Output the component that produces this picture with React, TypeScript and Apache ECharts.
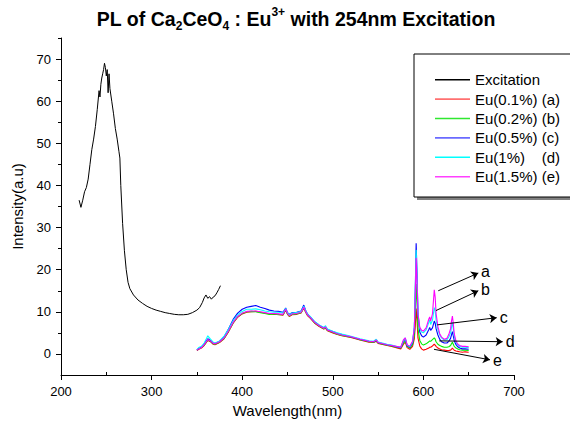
import React, { useEffect, useRef } from 'react';
import * as echarts from 'echarts';

const FONT = '"Liberation Sans", Arial, Helvetica, sans-serif';

// Excitation spectrum (black)
const excitationWavelengths = [220, 222, 224, 226, 228, 230, 232, 234, 236, 238, 240, 242, 243, 244, 245, 246, 247, 248, 249, 250, 251, 252, 253, 254, 256, 258, 260, 262, 264, 265, 266, 268, 270, 272, 274, 276, 280, 285, 290, 295, 300, 305, 310, 315, 320, 325, 330, 335, 340, 345, 350, 353, 356, 358, 360, 362, 364, 366, 368, 370, 372, 374, 376];
const excitationValues = [36.5, 34.8, 36.5, 38.5, 39.5, 41.5, 45, 48.5, 51, 54, 58, 62.5, 61, 64, 65.5, 66.5, 67.5, 69, 68, 66, 67.5, 62, 66.5, 63, 60, 57, 53.5, 51, 48, 46.5, 40, 31, 24.5, 20, 17, 15.5, 14, 12.8, 12, 11.3, 10.8, 10.4, 10.1, 9.8, 9.6, 9.4, 9.3, 9.3, 9.4, 9.8, 10.4, 11.0, 12.2, 13.3, 14.0, 13.2, 13.6, 13.0, 13.5, 13.8, 14.5, 15.3, 16.2];

// Emission spectra
const emissionWavelengths = [350, 352, 355, 358, 360, 362, 365, 368, 370, 375, 380, 385, 390, 395, 400, 405, 410, 415, 420, 425, 430, 435, 440, 445, 448, 450, 452, 455, 460, 465, 468, 470, 472, 475, 480, 485, 490, 492, 494, 500, 505, 510, 520, 530, 540, 545, 548, 550, 560, 565, 570, 575, 578, 580, 582, 585, 588, 590, 591, 592, 593, 594, 596, 598, 600, 603, 606, 607, 608, 610, 612, 613, 614, 616, 618, 620, 623, 626, 628, 630, 631, 632, 633, 634, 636, 638, 640, 643, 646, 650];

const eu01 = [0.8, 1.1, 1.4, 2.0, 2.6, 3.2, 2.9, 2.3, 2.2, 2.7,
  3.6, 5.3, 7.3, 8.7, 9.5, 9.9, 10.0, 10.1, 9.9, 9.7,
  9.5, 9.4, 9.4, 9.2, 10.4, 9.4, 8.9, 9.3, 9.4, 9.7,
  10.9, 9.9, 9.1, 8.5, 7.3, 6.5, 5.9, 6.1, 5.5, 5.0,
  4.6, 4.3, 3.9, 3.3, 2.8, 2.7, 3.0, 2.5, 2.0, 1.8,
  1.5, 1.2, 2.3, 2.8, 1.5, 1.1, 1.8, 3.6, 6.5, 10.8,
  7.8, 3.8, 1.9, 1.2, 0.9, 1.1, 1.4, 1.6, 1.6, 1.9,
  2.3, 2.1, 1.8, 1.4, 1.2, 1.0, 0.9, 0.8, 0.8, 0.9,
  1.1, 1.4, 1.1, 0.9, 0.7, 0.6, 0.5, 0.4, 0.5, 0.4];

const eu02 = [0.9, 1.2, 1.5, 2.1, 2.7, 3.3, 3.0, 2.4, 2.3, 2.8,
  3.7, 5.4, 7.4, 8.8, 9.6, 10.0, 10.1, 10.0, 9.8, 9.6,
  9.4, 9.5, 9.3, 9.3, 10.5, 9.5, 9.0, 9.4, 9.5, 9.8,
  11.0, 10.0, 9.2, 8.6, 7.4, 6.6, 6.0, 6.2, 5.6, 5.1,
  4.7, 4.4, 4.0, 3.4, 2.9, 2.8, 3.1, 2.6, 2.1, 1.9,
  1.6, 1.4, 2.6, 3.1, 1.8, 1.4, 2.2, 4.5, 9.5, 16.6,
  12.0, 6.0, 3.2, 2.4, 2.1, 2.4, 2.9, 3.1, 3.0, 3.4,
  3.8, 3.5, 2.9, 2.3, 2.0, 1.8, 1.6, 1.6, 1.7, 2.0,
  2.4, 2.8, 2.3, 1.8, 1.4, 1.2, 1.0, 0.9, 0.9, 0.8];

const eu05 = [0.9, 1.3, 1.6, 2.3, 3.0, 3.6, 3.2, 2.6, 2.5, 3.0,
  4.1, 6.0, 8.2, 9.7, 10.6, 11.1, 11.3, 11.5, 11.1, 10.8,
  10.4, 10.2, 10.1, 9.9, 10.9, 9.8, 9.4, 9.8, 9.9, 10.2,
  11.6, 10.4, 9.5, 8.8, 7.6, 6.8, 6.2, 6.4, 5.8, 5.3,
  4.9, 4.6, 4.1, 3.5, 3.0, 2.9, 3.3, 2.7, 2.2, 2.0,
  1.7, 1.5, 3.0, 3.6, 2.0, 1.6, 2.6, 6.0, 15.0, 26.3,
  19.0, 9.5, 5.2, 4.3, 4.0, 4.5, 5.8, 6.3, 5.6, 6.2,
  7.8, 7.3, 6.0, 4.5, 3.5, 2.9, 2.6, 2.6, 3.0, 3.7,
  4.5, 5.3, 4.3, 3.2, 2.2, 1.7, 1.4, 1.2, 1.2, 1.1];

const eu1 = [1.0, 1.5, 1.8, 2.6, 3.4, 4.3, 3.5, 2.8, 2.6, 3.1,
  4.2, 5.9, 7.9, 9.3, 10.1, 10.6, 10.6, 10.7, 10.5, 10.2,
  10.0, 9.9, 9.9, 9.7, 10.8, 9.8, 9.3, 9.7, 9.8, 10.1,
  11.3, 10.3, 9.5, 8.9, 7.7, 6.9, 6.3, 6.7, 5.9, 5.4,
  5.0, 4.7, 4.2, 3.6, 3.1, 3.0, 3.5, 2.8, 2.3, 2.1,
  1.8, 1.6, 3.2, 3.8, 2.1, 1.7, 2.8, 6.5, 14.5, 24.7,
  18.0, 9.8, 6.0, 5.2, 5.0, 5.7, 7.5, 8.1, 7.0, 8.0,
  11.0, 10.2, 8.0, 5.8, 4.5, 3.8, 3.3, 3.4, 4.0, 5.0,
  6.3, 7.5, 6.0, 4.2, 2.8, 2.1, 1.8, 1.6, 1.6, 1.5];

const eu15 = [0.9, 1.2, 1.5, 2.2, 2.8, 3.4, 3.1, 2.5, 2.4, 2.9,
  3.8, 5.5, 7.5, 8.9, 9.7, 10.1, 10.2, 10.2, 10.0, 9.8,
  9.6, 9.6, 9.5, 9.4, 10.6, 9.6, 9.1, 9.5, 9.6, 9.9,
  11.1, 10.1, 9.3, 8.7, 7.5, 6.7, 6.1, 6.4, 5.7, 5.2,
  4.8, 4.5, 4.1, 3.5, 3.0, 2.9, 3.3, 2.7, 2.2, 2.0,
  1.8, 1.6, 3.4, 3.8, 2.2, 1.8, 3.0, 6.2, 13.5, 22.8,
  17.0, 9.5, 6.3, 5.6, 5.4, 6.2, 8.3, 8.8, 7.8, 9.5,
  15.2, 13.5, 9.6, 6.5, 4.8, 4.0, 3.5, 3.7, 4.6, 6.0,
  7.8, 9.0, 7.2, 4.8, 3.0, 2.3, 2.0, 1.8, 1.8, 1.7];

const seriesNames = ['Excitation', 'Eu(0.1%) (a)', 'Eu(0.2%) (b)', 'Eu(0.5%) (c)', 'Eu(1%)    (d)', 'Eu(1.5%) (e)'];
const seriesColors = ['#000000', '#ff0000', '#00ee00', '#0000ff', '#00ffff', '#ff00ff'];
const legendIconColors = ['#000000', '#ff7070', '#30e830', '#6a6aff', '#00ffff', '#ff40ff'];

const xMajorTicks = [200, 300, 400, 500, 600, 700];
const xMinorTicks = [250, 350, 450, 550, 650];
const yMajorTicks = [0, 10, 20, 30, 40, 50, 60, 70];
const yMinorTicks = [5, 15, 25, 35, 45, 55, 65, 75];

// Annotation arrows (data coordinates)
const arrowLabels = ['a', 'b', 'c', 'd', 'e'];
const arrowStarts = [[616.4, 15.0], [613.9, 10.3], [615.3, 6.9], [617.5, 3.1], [611.7, 1.1]];
const arrowEnds = [[660.6, 19.2], [660.6, 15.0], [680.9, 8.6], [687.5, 2.9], [673.5, -1.4]];

function zip(xs: number[], ys: number[]) {
  return xs.map((x, i) => [x, ys[i]]);
}

export default function App() {
  const ref = useRef<HTMLDivElement>(null);
  useEffect(() => {
    const chart = echarts.init(ref.current!, null, { renderer: 'svg' });
    const emissionSets = [eu01, eu02, eu05, eu1, eu15];
    const lineSeries: any[] = [
      {
        name: seriesNames[0], type: 'line', data: zip(excitationWavelengths, excitationValues),
        showSymbol: false, symbol: 'none', color: seriesColors[0], lineStyle: { width: 1, color: seriesColors[0] },
        xAxisIndex: 0, yAxisIndex: 0, z: 3,
      },
      ...emissionSets.map((vals, i) => ({
        name: seriesNames[i + 1], type: 'line', data: zip(emissionWavelengths, vals),
        showSymbol: false, symbol: 'none', color: seriesColors[i + 1],
        lineStyle: { width: 1.1, color: seriesColors[i + 1] },
        xAxisIndex: 0, yAxisIndex: 0, z: 3,
      })),
      {
        type: 'lines', coordinateSystem: 'cartesian2d', xAxisIndex: 0, yAxisIndex: 0,
        symbol: ['none', 'arrow'], symbolSize: 7, z: 5,
        lineStyle: { color: '#000', width: 1, opacity: 1 },
        label: { show: true, position: 'end', formatter: '{b}', fontSize: 16, color: '#000', fontFamily: FONT, distance: 3 },
        data: arrowLabels.map((n, i) => ({ name: n, coords: [arrowStarts[i], arrowEnds[i]] })),
      },
    ];

    const axisText = { color: '#000', fontFamily: FONT, fontSize: 13 };
    chart.setOption({
      animation: false,
      backgroundColor: '#fff',
      grid: { left: 61, right: 56, top: 38, bottom: 53, containLabel: false },
      graphic: [
        { type: 'rect', z: 0, shape: { x: 417, y: 57, width: 160, height: 143 }, style: { fill: '#808080' } },
        { type: 'rect', z: 1, shape: { x: 414, y: 54, width: 160, height: 143 }, style: { fill: '#fff', stroke: '#000', lineWidth: 1 } },
        {
          type: 'text', x: 296, y: 6, z: 2,
          style: {
            text: '{m|PL of Ca}{s|2}{m|CeO}{s|4}{m| : Eu}{p|3+}{m| with 254nm Excitation}',
            align: 'center',
            rich: {
              m: { fontSize: 19.5, fontWeight: 'bold', fontFamily: FONT, fill: '#000', lineHeight: 26, verticalAlign: 'middle' },
              s: { fontSize: 12, fontWeight: 'bold', fontFamily: FONT, fill: '#000', lineHeight: 12, verticalAlign: 'bottom' },
              p: { fontSize: 12, fontWeight: 'bold', fontFamily: FONT, fill: '#000', lineHeight: 12, verticalAlign: 'top' },
            },
          },
        },
      ],
      legend: {
        show: true, orient: 'vertical', left: 430, top: 65, itemWidth: 35, itemHeight: 1.6, itemGap: 0,
        z: 10,
        data: seriesNames.map((n, i) => ({ name: n, icon: 'rect', itemStyle: { color: legendIconColors[i] } })),
        textStyle: { fontSize: 15, color: '#000', fontFamily: FONT, lineHeight: 19.4 },
      },
      xAxis: [
        {
          type: 'value', min: 200, max: 700, position: 'bottom',
          axisLine: { show: true, onZero: false, lineStyle: { color: '#000', width: 1 } },
          axisTick: { show: true, inside: false, length: 5, customValues: xMajorTicks, lineStyle: { color: '#000' } },
          axisLabel: { show: true, customValues: xMajorTicks, margin: 10, ...axisText },
          splitLine: { show: false },
          name: 'Wavelength(nm)', nameLocation: 'middle', nameGap: 28,
          nameTextStyle: { fontSize: 15, color: '#000', fontFamily: FONT },
        },
        {
          type: 'value', min: 200, max: 700, position: 'bottom',
          axisLine: { show: false, onZero: false },
          axisTick: { show: true, inside: true, length: 3, customValues: xMinorTicks, lineStyle: { color: '#000' } },
          axisLabel: { show: false },
          splitLine: { show: false },
        },
      ],
      yAxis: [
        {
          type: 'value', min: -5, max: 75, position: 'left',
          axisLine: { show: true, onZero: false, lineStyle: { color: '#000', width: 1 } },
          axisTick: { show: true, inside: false, length: 5, customValues: yMajorTicks, lineStyle: { color: '#000' } },
          axisLabel: { show: true, customValues: yMajorTicks, margin: 10, ...axisText },
          splitLine: { show: false },
          name: 'Intensity(a.u)', nameLocation: 'middle', nameGap: 36, nameRotate: 90,
          nameTextStyle: { fontSize: 15, color: '#000', fontFamily: FONT },
        },
        {
          type: 'value', min: -5, max: 75, position: 'left',
          axisLine: { show: false, onZero: false },
          axisTick: { show: true, inside: false, length: 3, customValues: yMinorTicks, lineStyle: { color: '#000' } },
          axisLabel: { show: false },
          splitLine: { show: false },
        },
      ],
      series: lineSeries,
    });
    return () => chart.dispose();
  }, []);
  return <div ref={ref} style={{ position: 'fixed', left: 0, top: 0, width: 570, height: 428 }} />;
}
